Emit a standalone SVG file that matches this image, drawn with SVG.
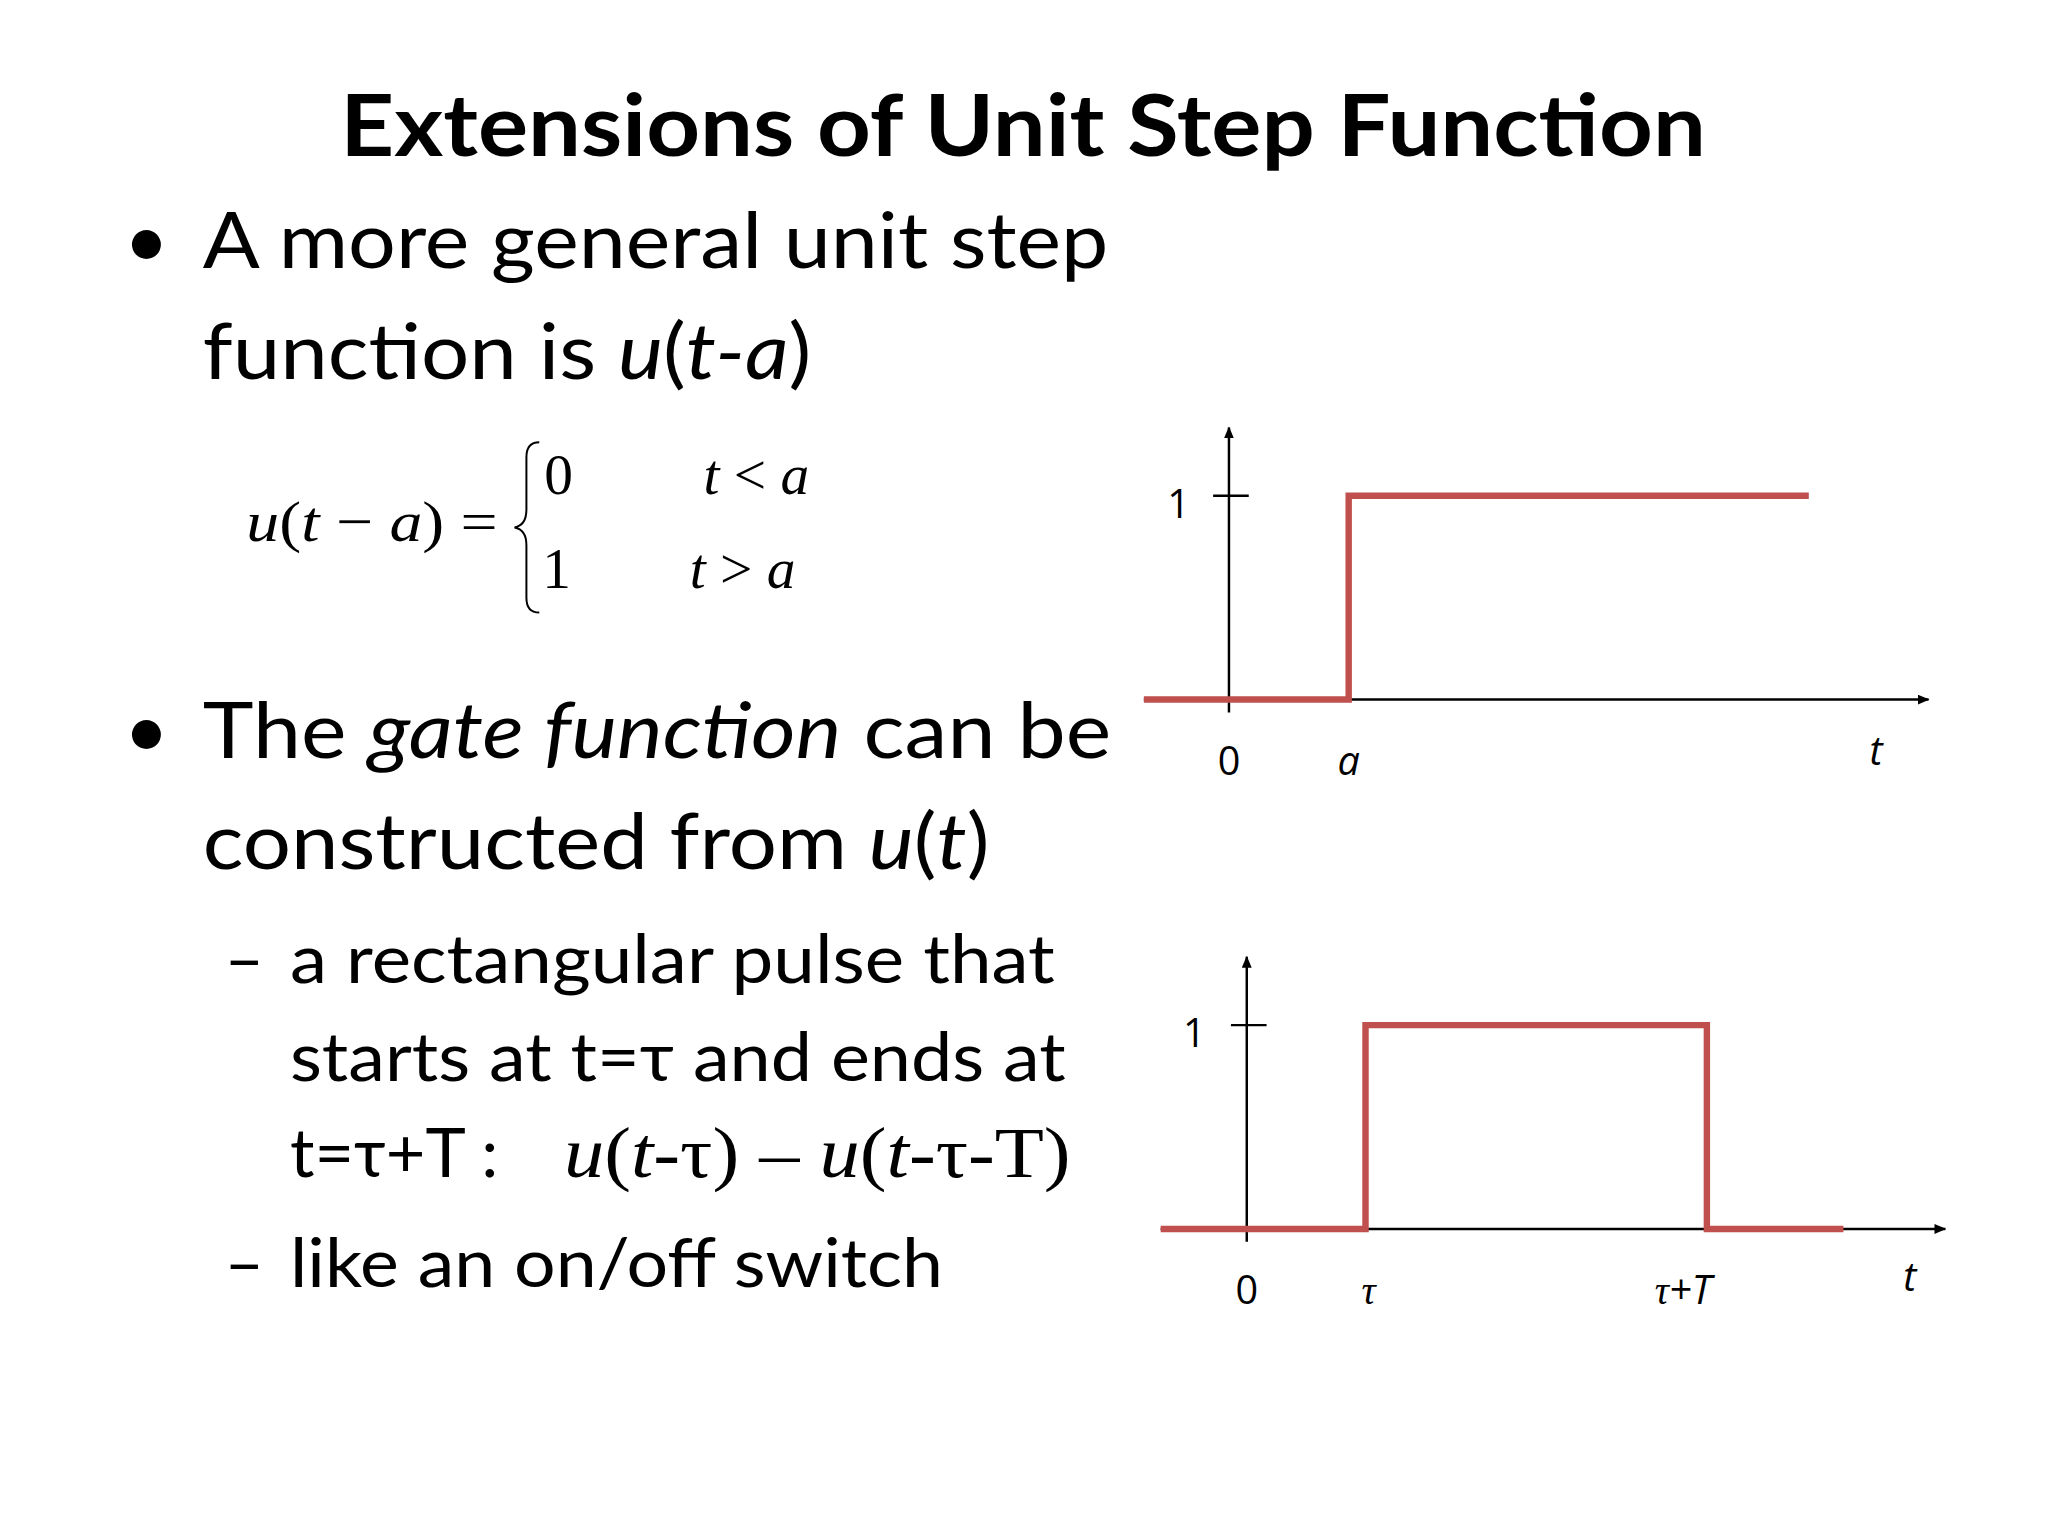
<svg xmlns="http://www.w3.org/2000/svg" width="2048" height="1536" viewBox="0 0 2048 1536">
<style>
.t{font-family:Lato,"Open Sans",sans-serif;fill:#000}
.m{font-family:"Liberation Serif",serif;fill:#000}
.ax{stroke:#000;stroke-width:2.5;fill:none}
.sig{stroke:#C0504D;stroke-width:6.5;fill:none}
.lb{font-family:"Open Sans",sans-serif;font-size:40px;fill:#000;text-anchor:middle}
</style>
<defs><marker id="ar" markerWidth="12" markerHeight="10" refX="11" refY="5" orient="auto" markerUnits="userSpaceOnUse"><path d="M0,0 L12,5 L0,10 Z" fill="#000"/></marker></defs>
<rect width="2048" height="1536" fill="#fff"/>
<g transform="scale(0.9895)">
<text class="t" x="1034" y="158" font-size="88" font-weight="bold" text-anchor="middle" textLength="1380" lengthAdjust="spacingAndGlyphs">Extensions of Unit Step Function</text>
<g id="text1">
<text class="t" x="125" y="271" font-size="79">•</text>
<text class="t" x="205" y="271" font-size="79" textLength="915" lengthAdjust="spacingAndGlyphs">A more general unit step</text>
<text class="t" x="205" y="383" font-size="79" textLength="615" lengthAdjust="spacingAndGlyphs">function is <tspan font-style="italic">u</tspan>(<tspan font-style="italic">t-a</tspan>)</text>
</g>
<g id="equation" class="m" font-size="58">
<text x="249" y="547" font-style="italic" textLength="254" lengthAdjust="spacingAndGlyphs">u<tspan font-style="normal">(</tspan>t<tspan font-style="normal"> − </tspan>a<tspan font-style="normal">) =</tspan></text>
<path d="M545,447 Q532,447 532,462 L532,515 Q532,531 520,533 Q532,535 532,551 L532,604 Q532,619 545,619" fill="none" stroke="#000" stroke-width="2"/>
<text x="550" y="499">0</text>
<text x="711" y="499" font-style="italic">t <tspan font-style="normal">&lt;</tspan> a</text>
<text x="548" y="594">1</text>
<text x="697" y="594" font-style="italic">t <tspan font-style="normal">&gt;</tspan> a</text>
</g>
<g id="text2">
<text class="t" x="125" y="766" font-size="79">•</text>
<text class="t" x="205" y="766" font-size="79" textLength="918" lengthAdjust="spacingAndGlyphs">The <tspan font-style="italic">gate function</tspan> can be</text>
<text class="t" x="205" y="878" font-size="79" textLength="795" lengthAdjust="spacingAndGlyphs">constructed from <tspan font-style="italic">u</tspan>(<tspan font-style="italic">t</tspan>)</text>
<text class="t" x="227" y="993" font-size="69">–</text>
<text class="t" x="293" y="993" font-size="69" textLength="773" lengthAdjust="spacingAndGlyphs">a rectangular pulse that</text>
<text class="t" x="293" y="1092" font-size="69" textLength="784" lengthAdjust="spacingAndGlyphs">starts at t=τ and ends at</text>
<text class="t" x="293" y="1189" font-size="69">t=τ+T :</text>
<text class="m" x="570" y="1189" font-size="72" textLength="512" lengthAdjust="spacingAndGlyphs"><tspan font-style="italic">u</tspan>(<tspan font-style="italic">t</tspan>-τ) – <tspan font-style="italic">u</tspan>(<tspan font-style="italic">t</tspan>-τ-T)</text>
<text class="t" x="227" y="1301" font-size="69">–</text>
<text class="t" x="293" y="1301" font-size="69" textLength="660" lengthAdjust="spacingAndGlyphs">like an on/off switch</text>
</g>
<g id="graph1">
<line class="ax" x1="1242" y1="720" x2="1242" y2="432" marker-end="url(#ar)"/>
<line class="ax" x1="1156" y1="707" x2="1949" y2="707" marker-end="url(#ar)"/>
<line class="ax" x1="1226" y1="501" x2="1262" y2="501"/>
<polyline class="sig" points="1156,707 1363,707 1363,501 1828,501"/>
<text class="lb" x="1191" y="523">1</text>
<text class="lb" x="1242" y="783">0</text>
<text class="lb" x="1363" y="783" font-style="italic">a</text>
<text class="lb" x="1896" y="773" font-style="italic">t</text>
</g>
<g id="graph2">
<line class="ax" x1="1260" y1="1255" x2="1260" y2="967" marker-end="url(#ar)"/>
<line class="ax" x1="1173" y1="1242" x2="1966" y2="1242" marker-end="url(#ar)"/>
<line class="ax" x1="1244" y1="1036" x2="1280" y2="1036"/>
<polyline class="sig" points="1173,1242 1380,1242 1380,1036 1725,1036 1725,1242 1863,1242"/>
<text class="lb" x="1207" y="1058">1</text>
<text class="lb" x="1260" y="1318">0</text>
<text class="m" x="1383" y="1318" font-size="40" font-style="italic" text-anchor="middle">τ</text>
<text class="m" x="1701" y="1318" font-size="40" font-style="italic" text-anchor="middle">τ<tspan font-family="Open Sans,sans-serif">+T</tspan></text>
<text class="lb" x="1930" y="1305" font-style="italic">t</text>
</g>
</g>
</svg>
